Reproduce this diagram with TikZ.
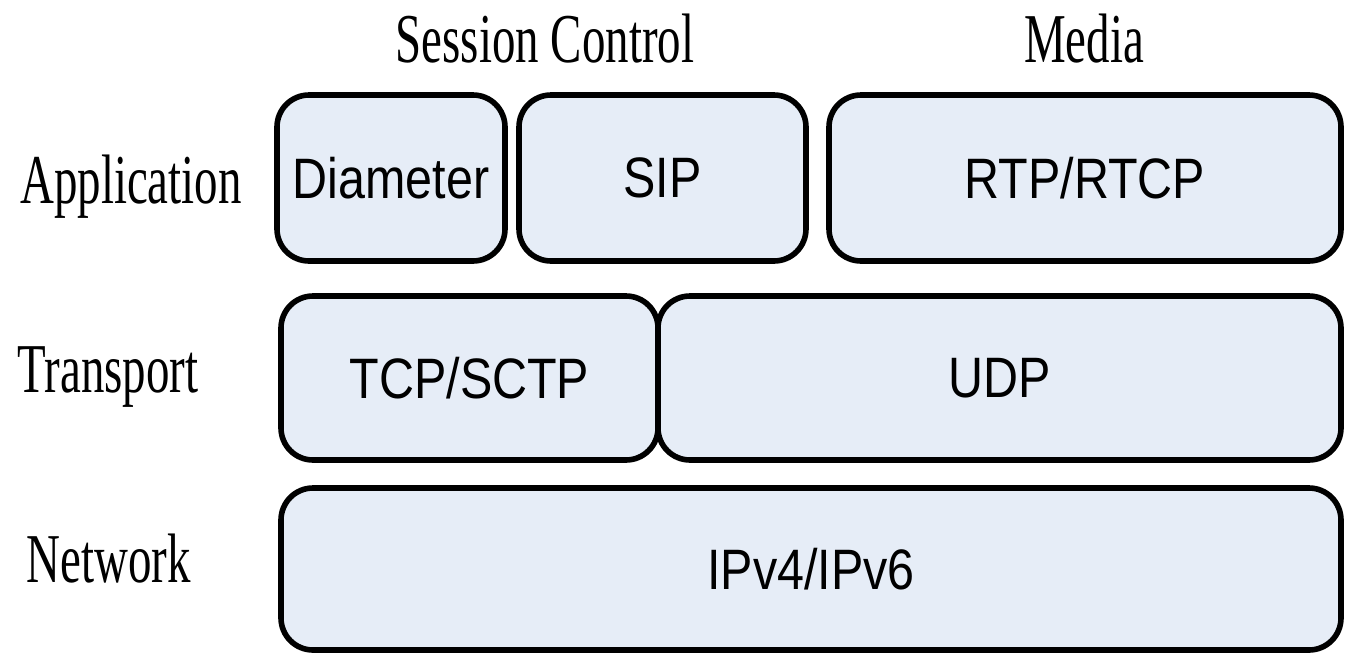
\documentclass[tikz,border=0pt]{standalone}
\usepackage{graphicx}
\usepackage{fontspec}
\setmainfont{Liberation Serif}
\newfontfamily\boxfont{Liberation Sans}
\definecolor{layerfill}{RGB}{230,237,247}
\newcommand{\layertext}[1]{\scalebox{0.85}[1]{\boxfont\fontsize{28.5pt}{30pt}\selectfont #1}}
\newcommand{\sidetext}[1]{\scalebox{0.67}[1]{\fontsize{35pt}{37pt}\selectfont #1}}
\tikzset{
  layer/.style={draw=black, fill=layerfill, line width=2.8pt, rounded corners=16pt,
    rectangle, inner sep=0pt, anchor=center},
  side/.style={inner sep=0pt, anchor=base}
}
\begin{document}
\begin{tikzpicture}[x=0.5pt, y=-0.5pt]
  \useasboundingbox (0,0) rectangle (1345,654);

  % column headings
  \node[side] (hsession) at (545,62) {\sidetext{Session Control}};
  \node[side] (hmedia) at (1084,62) {\sidetext{Media}};

  % layer names
  \node[side] (lapp) at (131,203) {\sidetext{Application}};
  \node[side] (ltrans) at (108,392) {\sidetext{Transport}};
  \node[side] (lnet) at (109,582) {\sidetext{Network}};

  % application layer
  \node[layer, minimum width=114pt, minimum height=83pt] (diameter) at (391,178) {\layertext{Diameter}};
  \node[layer, minimum width=143.5pt, minimum height=83pt] (sip) at (662.5,178) {\layertext{SIP}};
  \node[layer, minimum width=256pt, minimum height=83pt] (rtp) at (1085,178) {\layertext{RTP/RTCP}};

  % transport layer
  \node[layer, minimum width=188.5pt, minimum height=82pt] (tcp) at (469.5,378) {\layertext{TCP/SCTP}};
  \node[layer, minimum width=341.5pt, minimum height=82pt] (udp) at (999.5,378) {\layertext{UDP}};

  % network layer
  \node[layer, minimum width=530pt, minimum height=81pt] (ip) at (811,569) {\layertext{IPv4/IPv6}};
\end{tikzpicture}
\end{document}
